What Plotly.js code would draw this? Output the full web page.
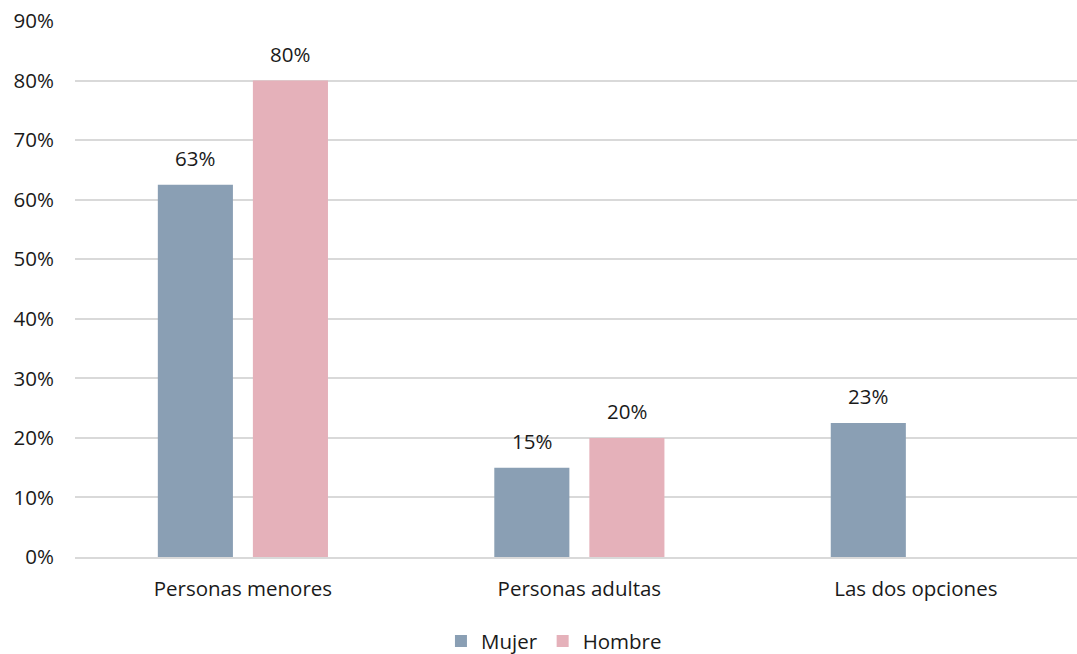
<!DOCTYPE html>
<html>
<head>
<meta charset="utf-8">
<script src="https://cdn.plot.ly/plotly-3.0.1.min.js"></script>
<style>html,body{margin:0;padding:0;background:#fff;}#chart{width:1077px;height:654px;}</style>
</head>
<body>
<div id="chart"></div>
<script>
const categories = ["Personas menores", "Personas adultas", "Las dos opciones"];
const mujerValues = [0.625, 0.15, 0.225];
const hombreValues = [0.80, 0.20, null];
const yTickValues = [0, 0.1, 0.2, 0.3, 0.4, 0.5, 0.6, 0.7, 0.8, 0.9];
const yTickLabels = ["0%", "10%", "20%", "30%", "40%", "50%", "60%", "70%", "80%", "90%"];

const fontFam = "'Open Sans', sans-serif";
const txtColor = "#1a1a1a";
const fs = 20.5;
function label(v){ return Math.round(v*100) + "%"; }

const traces = [
  {type:"bar", name:"Mujer", x:categories, y:mujerValues, marker:{color:"#8A9FB4"}, hoverinfo:"none"},
  {type:"bar", name:"Hombre", x:categories, y:hombreValues, marker:{color:"#E5B1BA"}, hoverinfo:"none"}
];

const annotations = [];
[[mujerValues, -47.5], [hombreValues, 47.5]].forEach(([vals, shift]) => {
  vals.forEach((v, i) => {
    if (v == null) return;
    annotations.push({x: categories[i], y: v, xref:"x", yref:"y", text: label(v), showarrow:false,
      xanchor:"center", yanchor:"bottom", xshift: shift, yshift: 11,
      font:{family:fontFam, size:fs, color:txtColor}});
  });
});

const layout = {
  width:1077, height:654,
  margin:{l:75, r:0, t:21, b:97, autoexpand:false},
  paper_bgcolor:"#fff", plot_bgcolor:"#fff",
  font:{family:fontFam, size:fs, color:txtColor},
  barmode:"group", bargap:0.435, bargroupgap:0.21,
  showlegend:true,
  annotations: annotations,
  legend:{orientation:"h", x:0.478, xanchor:"center", y:-0.157, yanchor:"middle",
          font:{family:fontFam, size:fs, color:txtColor}, itemwidth:30, traceorder:"normal"},
  xaxis:{type:"category", range:[-0.499, 2.479], automargin:false, showgrid:false, zeroline:false, showline:true, linecolor:"#D9D9D9", linewidth:2,
         ticks:"", ticklabelstandoff:12, tickfont:{family:fontFam, size:fs, color:txtColor}},
  yaxis:{range:[0,0.9], automargin:false, tickvals:yTickValues, ticktext:yTickLabels, showgrid:true, gridcolor:"#D9D9D9", gridwidth:2,
         zeroline:false, showline:false, ticks:"", ticklabelstandoff:20,
         tickfont:{family:fontFam, size:fs, color:txtColor}}
};

Plotly.newPlot("chart", traces, layout, {displayModeBar:false, staticPlot:true});
</script>
</body>
</html>
